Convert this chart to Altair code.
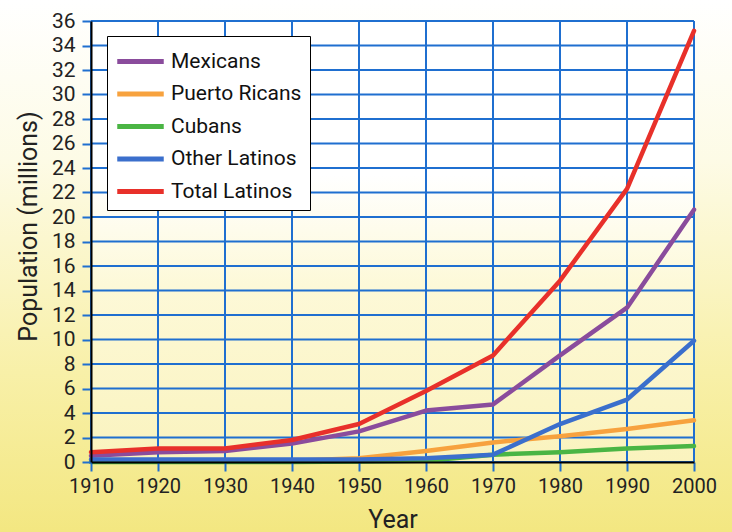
import altair as alt
import pandas as pd

years = [1910, 1920, 1930, 1940, 1950, 1960, 1970, 1980, 1990, 2000]
mexicans = [0.5, 0.8, 0.9, 1.5, 2.5, 4.2, 4.7, 8.7, 12.6, 20.6]
puerto_ricans = [0.05, 0.05, 0.1, 0.1, 0.3, 0.9, 1.6, 2.1, 2.7, 3.4]
cubans = [0.0, 0.0, 0.0, 0.0, 0.05, 0.1, 0.6, 0.8, 1.1, 1.3]
other_latinos = [0.2, 0.2, 0.2, 0.2, 0.2, 0.3, 0.6, 3.1, 5.1, 9.9]
total_latinos = [0.8, 1.1, 1.1, 1.8, 3.1, 5.8, 8.7, 14.8, 22.3, 35.2]

series_names = ["Mexicans", "Puerto Ricans", "Cubans", "Other Latinos", "Total Latinos"]
series_colors = ["#8a4c9c", "#f7a23e", "#4ab544", "#3b6fcc", "#e8302a"]
y_ticks = list(range(0, 37, 2))

FONT = "Roboto"
GRID = "#1f6fd0"

rows = []
for name, vals in zip(series_names, [mexicans, puerto_ricans, cubans, other_latinos, total_latinos]):
    for yr, v in zip(years, vals):
        rows.append({"Year": yr, "Population": v, "Group": name})
df = pd.DataFrame(rows)

xscale = alt.Scale(domain=[1910, 2000], nice=False, zero=False)
yscale = alt.Scale(domain=[0, 36], nice=False)

xaxis = alt.Axis(values=years, format="d", title="Year", grid=False,
                 domainColor="#000000", domainWidth=2, tickColor=GRID, tickWidth=2,
                 tickSize=9, labelPadding=5, titlePadding=11, zindex=1,
                 labelFontSize=20, labelOverlap=False, labelFlush=False)
yaxis = alt.Axis(values=y_ticks, format="d", title="Population (millions)", grid=False,
                 domainColor="#000000", domainWidth=2, tickColor=GRID, tickWidth=2,
                 tickSize=9, labelPadding=7, titlePadding=10, zindex=1,
                 labelFontSize=21, labelOverlap=False, labelFlush=False,
                 labelBound=False, titleY=205)

# page background gradient (decorative)
page_bg = alt.Chart(pd.DataFrame({"a": [0]})).mark_rect(
    clip=False,
    color=alt.Gradient(
        gradient="linear", x1=0, x2=0, y1=0, y2=1,
        stops=[alt.GradientStop(color="#ffffff", offset=0),
               alt.GradientStop(color="#fdfbe6", offset=0.3),
               alt.GradientStop(color="#f8f0a8", offset=0.7),
               alt.GradientStop(color="#f3e781", offset=1)],
    ),
).encode(x=alt.value(-91), x2=alt.value(641), y=alt.value(-21), y2=alt.value(511))

plot_bg = alt.Chart(pd.DataFrame({"a": [0]})).mark_rect(
    color=alt.Gradient(
        gradient="linear", x1=0, x2=0, y1=0, y2=1,
        stops=[alt.GradientStop(color="#ffffff", offset=0),
               alt.GradientStop(color="#ffffff", offset=0.35),
               alt.GradientStop(color="#fdf9d8", offset=0.6),
               alt.GradientStop(color="#faf3be", offset=1)],
    ),
).encode(x=alt.value(0), x2=alt.value(603), y=alt.value(0), y2=alt.value(441))

vgrid = alt.Chart(pd.DataFrame({"Year": years})).mark_rule(color=GRID, strokeWidth=2).encode(
    x=alt.X("Year:Q", scale=xscale, axis=xaxis)
)
hgrid = alt.Chart(pd.DataFrame({"Population": y_ticks})).mark_rule(color=GRID, strokeWidth=2).encode(
    y=alt.Y("Population:Q", scale=yscale, axis=yaxis)
)

lines = alt.Chart(df).mark_line(strokeWidth=4.5, strokeCap="round", strokeJoin="round").encode(
    x=alt.X("Year:Q", scale=xscale, axis=xaxis),
    y=alt.Y("Population:Q", scale=yscale, axis=yaxis),
    color=alt.Color("Group:N", scale=alt.Scale(domain=series_names, range=series_colors),
                    sort=series_names,
                    legend=alt.Legend(title=None, orient="none", legendX=16, legendY=15,
                                      symbolType="M-1.55,0H1.55", symbolSize=900, symbolStrokeWidth=5,
                                      fillColor="#ffffff", strokeColor="#000000",
                                      padding=8, rowPadding=4.5, labelFontSize=21,
                                      labelFont=FONT, labelColor="#111111", symbolOffset=8,
                                      labelOffset=13)),
    order=alt.Order("Group:N"),
)

chart = alt.layer(page_bg, plot_bg, vgrid, hgrid, lines).properties(
    width=603, height=441,
    autosize=alt.AutoSizeParams(type="none"),
    padding={"left": 91, "top": 21, "right": 38, "bottom": 70},
).configure_axis(
    labelFont=FONT, titleFont=FONT, titleFontSize=25, labelOverlap=False,
    labelColor="#222222", titleColor="#222222", titleFontWeight="normal",
).configure_view(stroke=None)

chart.save("out.html", embed_options={"renderer": "svg", "actions": False})
